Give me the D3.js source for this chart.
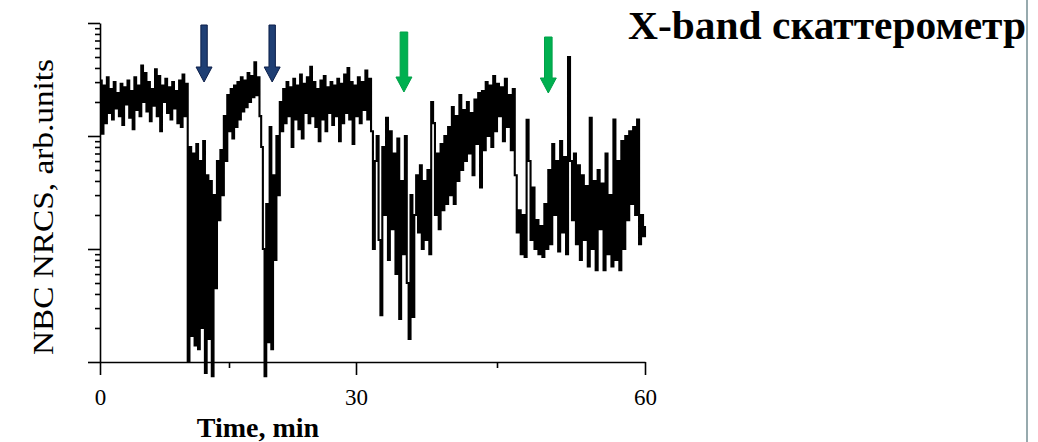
<!DOCTYPE html>
<html>
<head>
<meta charset="utf-8">
<script src="https://cdn.jsdelivr.net/npm/d3@7"></script>
<style>
  body { margin: 0; background: #fff; }
  svg { display: block; }
</style>
</head>
<body>
<svg id="chart" width="1038" height="442"></svg>
<script>
// NBC NRCS record, arbitrary units, one sample every 0.2 min (0 … 60 min)
const nrcs = [
  310, 105, 280, 130, 330, 160, 260, 140, 300, 175,
  240, 150, 290, 125, 270, 190, 310, 145, 250, 115,
  330, 170, 280, 150, 420, 200, 360, 165, 300, 135,
  260, 185, 390, 150, 340, 110, 280, 200, 320, 160,
  270, 140, 300, 175, 250, 130, 310, 120, 350, 150,
  290, 1.0, 80, 1.7, 70, 1.4, 85, 1.3, 60, 2.0,
  90, 0.8, 45, 1.6, 40, 0.75, 30, 4.5, 60, 18,
  75, 30, 150, 60, 230, 110, 260, 95, 280, 120,
  300, 140, 330, 165, 310, 180, 360, 200, 340, 220,
  450, 230, 330, 150, 80, 10, 0.75, 25, 1.5, 120,
  1.3, 45, 8, 100, 30, 200, 110, 260, 130, 300,
  150, 270, 80, 320, 140, 280, 115, 350, 95, 290,
  160, 330, 130, 410, 150, 300, 120, 260, 90, 310,
  140, 340, 110, 270, 160, 300, 125, 280, 150, 320,
  90, 290, 130, 350, 160, 400, 140, 300, 85, 280,
  150, 330, 130, 300, 170, 380, 140, 320, 110, 10,
  60, 100, 12, 2.6, 80, 20, 145, 8, 110, 15,
  70, 6, 95, 2.4, 40, 9, 100, 5, 1.6, 30,
  2.5, 20, 45, 14, 55, 10, 40, 12, 50, 9,
  200, 130, 20, 70, 15, 85, 22, 100, 25, 120,
  30, 180, 25, 150, 40, 230, 50, 170, 60, 200,
  70, 160, 45, 210, 85, 240, 35, 250, 75, 300,
  100, 280, 80, 340, 110, 290, 150, 270, 90, 320,
  120, 230, 75, 260, 45, 14, 22, 9, 20, 8.5,
  139, 60, 12, 35, 10, 18, 9, 16, 8.5, 25,
  10, 50, 11, 85, 20, 60, 9.5, 90, 14, 65,
  9, 500, 60, 18, 70, 11, 55, 8, 45, 12,
  36, 7, 145, 10, 40, 6.5, 50, 15, 38, 6.5,
  70, 9, 30, 7, 140, 8, 60, 6.5, 90, 10,
  100, 18, 110, 25, 120, 20, 140, 11, 20, 13,
  16
];
const sampleStep = 0.2;                 // minutes between samples
const timeTicks = [0, 15, 30, 45, 60];  // time axis ticks, min
const timeTickLabels = ["0", "", "30", "", "60"];
const levelDomain = [1, 1000];          // three decades, log axis

// moments marked with arrows (min) and their groups
const markerTimes = [12.1, 20.1, 35.1, 50.2];
const markerGroups = ["slick", "slick", "front", "front"];

const titleText = "X-band скаттерометр";
const xTitle = "Time, min";
const yTitle = "NBC NRCS, arb.units";

// ---------------------------------------------------------------
const svg = d3.select("#chart");
svg.append("rect").attr("width", 1038).attr("height", 442).attr("fill", "#fff");

// time axis of the recorder is slightly non-uniform – polylinear scale
const x = d3.scaleLinear()
  .domain(timeTicks)
  .range([100, 229, 356, 497, 645]);
const y = d3.scaleLog().domain(levelDomain).range([362, 23]);

const ink = "#000";
const serif = "'Liberation Serif', 'Times New Roman', serif";

// log axis: decades long ticks, 2…9 short ticks
const yTickVals = [];
for (let dec = 1; dec < 1000; dec *= 10) {
  for (let k = 1; k < 10; k++) yTickVals.push(dec * k);
}
yTickVals.push(1000);
const isDecade = v => Math.abs(Math.log10(v) - Math.round(Math.log10(v))) < 1e-9;

const gy = svg.append("g")
  .attr("transform", "translate(100,0)")
  .call(d3.axisLeft(y).tickValues(yTickVals).tickFormat("").tickSize(5).tickSizeOuter(0));
gy.selectAll(".tick line").attr("x2", d => isDecade(d) ? -12 : -5);
gy.selectAll("line, path").attr("stroke", ink).attr("stroke-width", 1.6);

const gx = svg.append("g")
  .attr("transform", "translate(0,362)")
  .call(d3.axisBottom(x).tickValues(timeTicks).tickFormat("").tickSize(12).tickSizeOuter(0));
gx.selectAll(".tick line").attr("y2", (d, i) => timeTickLabels[i] ? 13 : 6);
gx.selectAll("line, path").attr("stroke", ink).attr("stroke-width", 1.6);
gx.selectAll(".tick").append("text")
  .attr("y", 43)
  .attr("text-anchor", "middle")
  .attr("fill", ink)
  .style("font-family", serif)
  .style("font-size", "23px")
  .text((d, i) => timeTickLabels[i]);

// the record itself
const series = nrcs.map((v, i) => ({ t: i * sampleStep, v }));
svg.append("path")
  .datum(series)
  .attr("fill", "none")
  .attr("stroke", ink)
  .attr("stroke-width", 2.1)
  .attr("stroke-linejoin", "miter")
  .attr("d", d3.line().x(d => x(d.t)).y(d => y(d.v)).curve(d3.curveStepAfter));

// arrows over the events
const arrowStyle = {
  slick: { fill: "#1f3f74", stroke: "#0c1f4a", top: 25, tip: 82, shaft: 3.2, head: 8 },
  front: { fill: "#00b050", stroke: "#00a048", top: 32, tip: 92, shaft: 3.8, head: 8 }
};
const arrowTopShift = [0, 0, 0, 5];
markerTimes.forEach((t, i) => {
  const s = arrowStyle[markerGroups[i]];
  const cx = x(t);
  const top = s.top + arrowTopShift[i];
  const tip = s.tip + (i === 3 ? 1 : 0);
  const neck = tip - 15;
  const p = d3.path();
  p.moveTo(cx - s.shaft, top);
  p.lineTo(cx + s.shaft, top);
  p.lineTo(cx + s.shaft, neck);
  p.lineTo(cx + s.head, neck);
  p.lineTo(cx, tip);
  p.lineTo(cx - s.head, neck);
  p.lineTo(cx - s.shaft, neck);
  p.closePath();
  svg.append("path").attr("d", p.toString())
    .attr("fill", s.fill).attr("stroke", s.stroke).attr("stroke-width", 1);
});

// axis titles
svg.append("text")
  .attr("x", 258).attr("y", 437)
  .attr("text-anchor", "middle")
  .style("font-family", serif)
  .style("font-weight", "bold")
  .style("font-size", "28px")
  .text(xTitle);

svg.append("text")
  .attr("transform", "translate(53,207) rotate(-90)")
  .attr("text-anchor", "middle")
  .attr("textLength", 296)
  .attr("lengthAdjust", "spacingAndGlyphs")
  .style("font-family", serif)
  .style("font-size", "29px")
  .text(yTitle);

// heading
svg.append("text")
  .attr("x", 628).attr("y", 39)
  .attr("textLength", 398)
  .attr("lengthAdjust", "spacingAndGlyphs")
  .style("font-family", serif)
  .style("font-weight", "bold")
  .style("font-size", "40px")
  .text(titleText);

// slide divider on the right
svg.append("line")
  .attr("x1", 1027).attr("x2", 1027).attr("y1", 0).attr("y2", 442)
  .attr("stroke", "#97aaae").attr("stroke-width", 2);
</script>
</body>
</html>
